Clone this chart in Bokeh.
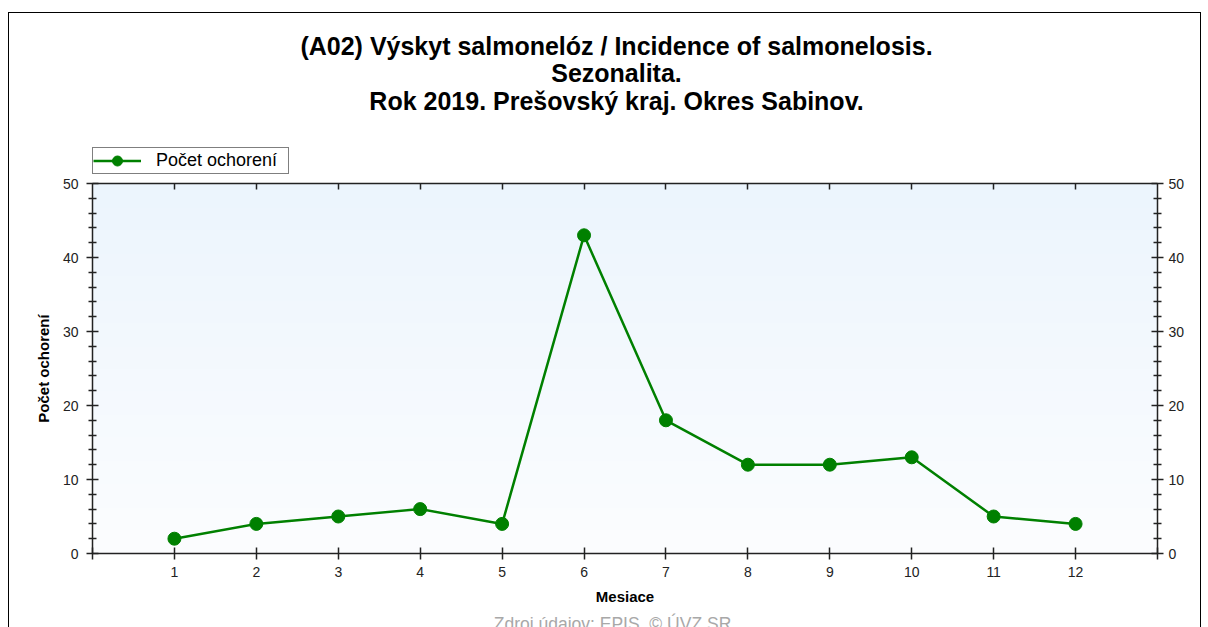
import numpy as np
from bokeh.plotting import figure
from bokeh.models import (Label, Legend, LegendItem, FixedTicker, LinearAxis,
                          Range1d, InlineStyleSheet)
from bokeh.embed import file_html
from bokeh.resources import INLINE

# ---- data ----
months = [1, 2, 3, 4, 5, 6, 7, 8, 9, 10, 11, 12]
cases = [2, 4, 5, 6, 4, 43, 18, 12, 12, 13, 5, 4]
y_ticks = [0, 10, 20, 30, 40, 50]
title_lines = ["(A02) Výskyt salmonelóz / Incidence of salmonelosis.",
               "Sezonalita.",
               "Rok 2019. Prešovský kraj. Okres Sabinov."]
series_name = "Počet ochorení"
x_label = "Mesiace"
y_label = "Počet ochorení"
source_text = "Zdroj údajov: EPIS, © ÚVZ SR"

FONT = "Liberation Sans"
AX = "#222222"

W, H = 1208, 627
# plot area in page pixels
L, R, T, B = 92, 1157, 183, 553
X0, X1, Y0, Y1 = 0, 13, 0, 50
sx = (R - L) / (X1 - X0)
sy = (B - T) / (Y1 - Y0)
xr = Range1d(X0 - L / sx, X1 + (W - R) / sx)
yr_ = Range1d(Y0 - (H - B) / sy, Y1 + T / sy)

p = figure(width=W, height=H, output_backend="svg", toolbar_location=None,
           x_range=xr, y_range=yr_,
           min_border_left=0, min_border_right=0, min_border_top=0,
           min_border_bottom=0, x_axis_location=None, y_axis_location=None,
           background_fill_color="white", border_fill_color="white")
p.title.visible = False
p.grid.visible = False
p.outline_line_color = None

# outer frame (page border) drawn with CSS
p.stylesheets = [InlineStyleSheet(css=
    ":host { position: relative; }"
    ":host::after { content: ''; position: absolute; left: 8px; top: 12px;"
    " width: 1193px; height: 620px; border: 1.5px solid black; border-bottom: none;"
    " box-sizing: border-box; pointer-events: none; z-index: 10; }")]

# gradient background of plot area
n = 200
t = np.linspace(0, 1, n)  # 0 bottom -> 1 top
top = np.array([236, 245, 253]); bot = np.array([252, 253, 255])
cols = (bot[None, :] * (1 - t[:, None]) + top[None, :] * t[:, None]).astype(np.uint32)
img = np.empty((n, 1), dtype=np.uint32)
view = img.view(dtype=np.uint8).reshape((n, 1, 4))
view[:, 0, 0] = cols[:, 0]; view[:, 0, 1] = cols[:, 1]; view[:, 0, 2] = cols[:, 2]; view[:, 0, 3] = 255
p.image_rgba(image=[img], x=X0, y=Y0, dw=X1 - X0, dh=Y1 - Y0, level="image")

def style_axis(ax, tin, tout):
    ax.axis_line_color = AX
    ax.axis_line_width = 1.5
    ax.major_tick_line_color = AX
    ax.major_tick_line_width = 1.5
    ax.minor_tick_line_color = AX
    ax.minor_tick_line_width = 1.5
    ax.major_tick_in = tin
    ax.major_tick_out = tout
    ax.major_label_text_font = FONT
    ax.major_label_text_font_size = "14px"
    ax.major_label_text_color = AX

xticks = list(range(X0, X1 + 1))
xb = LinearAxis(ticker=FixedTicker(ticks=xticks), fixed_location=Y0, bounds=(X0, X1))
style_axis(xb, 6, 6)
xb.major_label_overrides = {X0: "", X1: ""}
xb.major_label_standoff = 7
xb.axis_label = x_label
xb.axis_label_text_font = FONT
xb.axis_label_text_font_size = "15px"
xb.axis_label_text_font_style = "bold"
xb.axis_label_text_color = "black"
xb.axis_label_standoff = 8
xb.minor_tick_in = 0; xb.minor_tick_out = 0
p.add_layout(xb, "below")

xtop = LinearAxis(ticker=FixedTicker(ticks=months), fixed_location=Y1, bounds=(X0, X1))
style_axis(xtop, 6, 0)
xtop.major_label_text_alpha = 0
xtop.minor_tick_in = 0; xtop.minor_tick_out = 0
p.add_layout(xtop, "above")

yt = FixedTicker(ticks=y_ticks,
                 minor_ticks=[v for v in range(Y0, Y1 + 1, 2) if v % 10])
yl = LinearAxis(ticker=yt, fixed_location=X0, bounds=(Y0, Y1))
style_axis(yl, 6, 6)
yl.minor_tick_in = 4; yl.minor_tick_out = 4
yl.major_label_standoff = 8
yl.axis_label = y_label
yl.axis_label_text_font = FONT
yl.axis_label_text_font_size = "15px"
yl.axis_label_text_font_style = "bold"
yl.axis_label_text_color = "black"
yl.axis_label_standoff = 8
p.add_layout(yl, "left")

yr = LinearAxis(ticker=yt, fixed_location=X1, bounds=(Y0, Y1))
style_axis(yr, 6, 6)
yr.minor_tick_in = 4; yr.minor_tick_out = 4
yr.major_label_standoff = 5
p.add_layout(yr, "right")

# series
ln = p.line(months, cases, line_color="#008000", line_width=2.5)
sc = p.scatter(months, cases, size=13, fill_color="#008000", line_color="#008000")

legend = Legend(items=[LegendItem(label=series_name, renderers=[ln, sc])],
                location=(L, H - 174), orientation="horizontal",
                border_line_color="black", border_line_width=1,
                background_fill_color="white", background_fill_alpha=1,
                label_text_font=FONT, label_text_font_size="18px",
                label_text_color="black", glyph_width=48, glyph_height=25,
                label_height=25, label_width=132, label_standoff=15,
                padding=0, margin=0, spacing=0)
p.add_layout(legend, "center")

# title lines
for txt, yy in zip(title_lines, [45, 72, 100]):
    p.add_layout(Label(x=616, y=yy, x_units="canvas", y_units="canvas", text=txt,
                       text_align="center", text_baseline="middle",
                       text_font=FONT, text_font_size="25px",
                       text_font_style="bold", text_color="black"))

p.add_layout(Label(x=612, y=623, x_units="canvas", y_units="canvas",
                   text=source_text, text_align="center", text_baseline="middle",
                   text_font=FONT, text_font_size="17.5px", text_color="#a8a8a8"))

open("out.html", "w").write(file_html(p, INLINE))
